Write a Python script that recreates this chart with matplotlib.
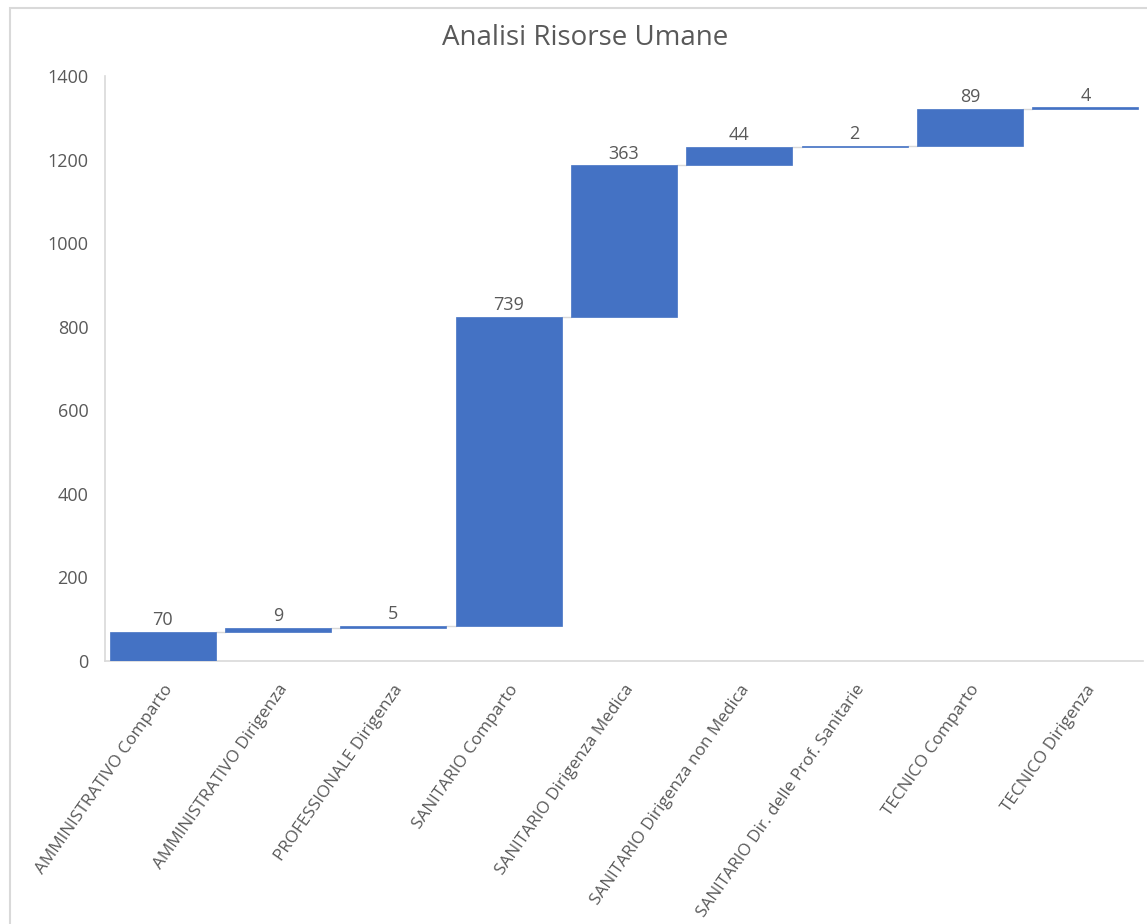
import matplotlib
matplotlib.use("Agg")
import matplotlib.pyplot as plt
from matplotlib.patches import Rectangle
import numpy as np

categories = [
    "AMMINISTRATIVO Comparto",
    "AMMINISTRATIVO Dirigenza",
    "PROFESSIONALE Dirigenza",
    "SANITARIO Comparto",
    "SANITARIO Dirigenza Medica",
    "SANITARIO Dirigenza non Medica",
    "SANITARIO Dir. delle Prof. Sanitarie",
    "TECNICO Comparto",
    "TECNICO Dirigenza",
]
values = [70, 9, 5, 739, 363, 44, 2, 89, 4]
y_ticks = [0, 200, 400, 600, 800, 1000, 1200, 1400]

plt.rcParams["font.family"] = ["Open Sans", "DejaVu Sans"]
text_color = "#595959"
bar_color = "#4472C4"
line_color = "#D9D9D9"

fig = plt.figure(figsize=(11.47, 9.24), dpi=100)
ax = fig.add_axes([105 / 1147, 1 - 661 / 924, (1143 - 105) / 1147, (661 - 76) / 924])

# waterfall: each bar starts where the previous one ended
vals = np.array(values)
ends = np.cumsum(vals)
starts = ends - vals
x = np.arange(len(categories))
width = 0.92

bars = ax.bar(x, vals, bottom=starts, width=width, color=bar_color,
              edgecolor=bar_color, linewidth=0.5, zorder=3)
ax.bar_label(bars, labels=[str(v) for v in values], padding=2,
             color=text_color, fontsize=13)

# connector lines in the gaps between bars
for i in range(len(x) - 1):
    ax.plot([x[i] + width / 2, x[i + 1] - width / 2], [ends[i], ends[i]],
            color=line_color, lw=1, zorder=2)

ax.set_xlim(-0.5, len(x) - 0.5)
ax.set_ylim(0, 1400)
ax.set_yticks(y_ticks)
ax.set_yticklabels([str(t) for t in y_ticks])
ax.set_xticks(x)
ax.set_xticklabels(categories, rotation=55, ha="right", rotation_mode="anchor")

ax.tick_params(axis="both", length=0, colors=text_color, labelsize=13)
ax.tick_params(axis="x", pad=15, labelsize=12.3)
ax.tick_params(axis="y", pad=12)

for side in ["top", "right"]:
    ax.spines[side].set_visible(False)
for side in ["left", "bottom"]:
    ax.spines[side].set_color(line_color)
    ax.spines[side].set_linewidth(1.2)

fig.text(585 / 1147, 1 - 38 / 924, "Analisi Risorse Umane", ha="center",
         va="center", fontsize=20, color=text_color)

# chart area border
fig.add_artist(Rectangle((10 / 1147, -0.1), 1.2, 1.1 - 8 / 924,
                         transform=fig.transFigure, fill=False,
                         edgecolor=line_color, lw=1.5))

fig.savefig("out.png", dpi=100)
